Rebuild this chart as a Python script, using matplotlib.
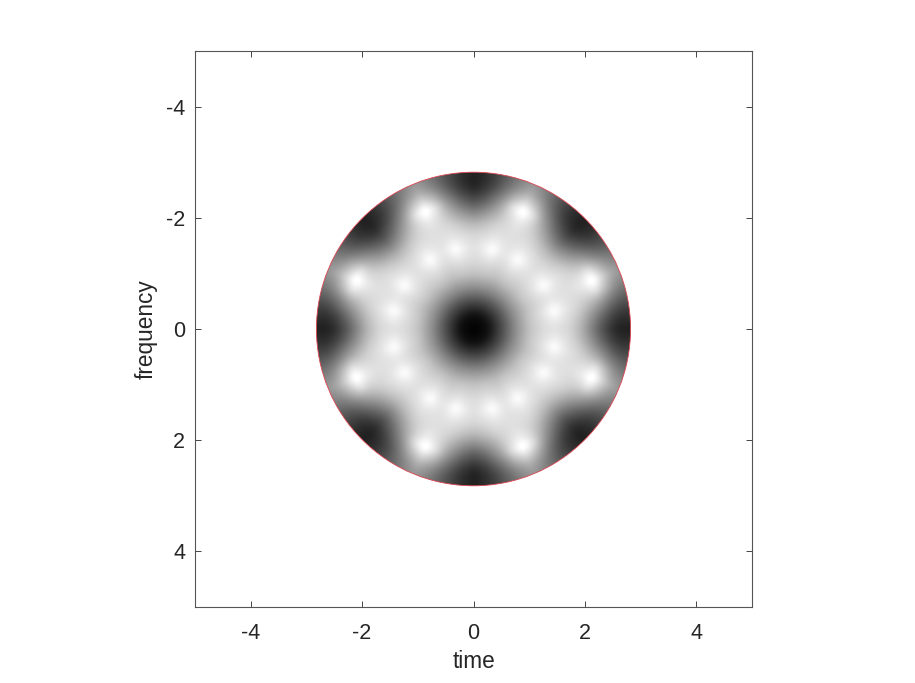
import numpy as np
import matplotlib
matplotlib.use("Agg")
import matplotlib.pyplot as plt
from matplotlib.patches import Circle

plt.rcParams['font.family'] = ['Liberation Sans', 'DejaVu Sans']
plt.rcParams['axes.unicode_minus'] = False

# gray level, along rays at a few angles (pattern repeats every 45 deg)
radius = [0, 0.25, 0.5, 0.75, 1.0, 1.25, 1.47, 1.7, 1.9, 2.1, 2.3, 2.5, 2.65, 2.82]
ray_angles = [0, 5, 9, 13, 17.5, 22.5]
ray_0 = [0, .06, .3, .56, .76, .86, .88, .84, .72, .52, .32, .17, .12, .12]
ray_5 = [0, .06, .3, .56, .77, .87, .92, .86, .75, .58, .4, .25, .19, .19]
ray_9 = [0, .06, .3, .56, .77, .88, .97, .88, .8, .66, .52, .37, .29, .28]
ray_13 = [0, .06, .3, .56, .77, .89, 1.03, .9, .84, .76, .66, .51, .42, .38]
ray_17 = [0, .06, .3, .56, .76, .87, .95, .89, .86, .86, .9, .7, .56, .5]
ray_22 = [0, .06, .3, .56, .75, .86, .9, .88, .88, .93, 1.08, .83, .68, .6]

ticks = [-4, -2, 0, 2, 4]
dark = '#262626'


def gray_image(n=560, sigma=3.0):
    # lay the ray table out on a pixel grid, with a small blur to soften it
    table = np.array([ray_0, ray_5, ray_9, ray_13, ray_17, ray_22]).T
    axis = np.linspace(-5, 5, n)
    xx, yy = np.meshgrid(axis, axis)
    rr = np.hypot(xx, yy)
    ang = np.degrees(np.arctan2(yy, xx)) % 45
    ang = np.minimum(ang, 45 - ang)
    ri = np.interp(rr, radius, np.arange(len(radius)))
    ai = np.interp(ang, ray_angles, np.arange(len(ray_angles)))
    r0 = np.minimum(ri.astype(int), len(radius) - 2)
    a0 = np.minimum(ai.astype(int), len(ray_angles) - 2)
    fr = ri - r0
    fa = ai - a0
    img = (table[r0, a0] * (1 - fr) * (1 - fa) + table[r0 + 1, a0] * fr * (1 - fa)
           + table[r0, a0 + 1] * (1 - fr) * fa + table[r0 + 1, a0 + 1] * fr * fa)
    k = np.exp(-0.5 * (np.arange(-9, 10) / sigma) ** 2)
    k /= k.sum()
    img = np.apply_along_axis(lambda v: np.convolve(v, k, mode='same'), 0, img)
    img = np.apply_along_axis(lambda v: np.convolve(v, k, mode='same'), 1, img)
    return img


fig = plt.figure(figsize=(9.15, 6.83), dpi=100)
ax = fig.add_axes([195 / 915, 1 - 607 / 683, 557 / 915, 556 / 683])

im = ax.imshow(gray_image(), cmap='gray', vmin=0, vmax=1, extent=[-5, 5, 5, -5],
               origin='upper', interpolation='bilinear', aspect='auto')
disk = Circle((0, 0), radius[-1], transform=ax.transData)
im.set_clip_path(disk)
ax.add_patch(Circle((0, 0), radius[-1], fill=False, edgecolor='#dd4450', linewidth=0.6))

ax.set_xlim(-5, 5)
ax.set_ylim(5, -5)
ax.set_xticks(ticks)
ax.set_yticks(ticks)
ax.tick_params(direction='in', length=4.2, width=0.6, top=True, right=True,
               color=dark, labelcolor=dark, labelsize=15.5)
ax.tick_params(axis='x', pad=11.5)
ax.tick_params(axis='y', pad=7)
for s in ax.spines.values():
    s.set_linewidth(0.8)
    s.set_color('#555555')
ax.set_xlabel('time', fontsize=16.3, color=dark, labelpad=4)
ax.set_ylabel('frequency', fontsize=16.3, color=dark, labelpad=6)

fig.savefig('out.png', dpi=100)
